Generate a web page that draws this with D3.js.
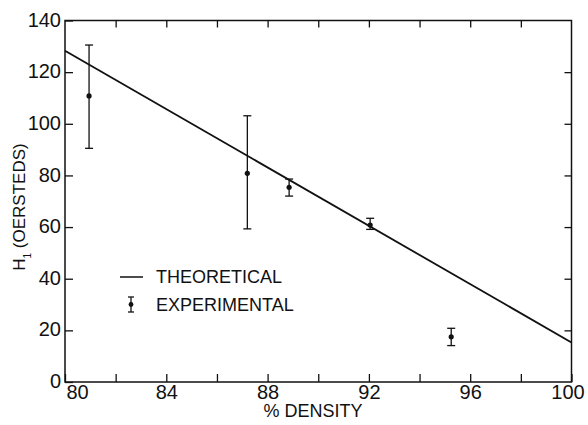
<!DOCTYPE html>
<html>
<head>
<meta charset="utf-8">
<script src="https://cdn.jsdelivr.net/npm/d3@7"></script>
<style>
  body { margin: 0; background: #fff; }
  text { font-family: "Liberation Sans", Arial, sans-serif; fill: #111; }
  .axis path { display: none; }
  .axis line { stroke: #111; stroke-width: 1.3; }
</style>
</head>
<body>
<svg id="chart"></svg>
<script>
// % density of the samples and measured H1 with its error range
var density   = [80.95, 87.2, 88.85, 92.05, 95.25];
var hMeasured = [110.8, 80.8, 75.4, 60.8, 17.5];
var hLow      = [90.5, 59.3, 72.0, 59.1, 14.1];
var hHigh     = [130.5, 103.1, 78.6, 63.4, 20.8];

// theoretical line end points
var theoryX = [80, 100];
var theoryY = [128.3, 15.3];

var xTicks = [80, 82, 84, 86, 88, 90, 92, 94, 96, 98, 100];
var yTicks = [0, 20, 40, 60, 80, 100, 120, 140];

var width = 588, height = 425;
var margin = {top: 20.5, right: 16.5, bottom: 43, left: 65};
var w = width - margin.left - margin.right;
var h = height - margin.top - margin.bottom;

var svg = d3.select("#chart").attr("width", width).attr("height", height);
var g = svg.append("g").attr("transform", "translate(" + margin.left + "," + margin.top + ")");

var x = d3.scaleLinear().domain([80, 100]).range([0, w]);
var y = d3.scaleLinear().domain([0, 140]).range([h, 0]);

// frame
g.append("rect")
  .attr("width", w).attr("height", h)
  .attr("fill", "none").attr("stroke", "#111").attr("stroke-width", 1.5);

// bottom axis, labels every 4, ticks every 2
var xAxis = g.append("g")
  .attr("class", "axis")
  .attr("transform", "translate(0," + h + ")")
  .call(d3.axisBottom(x).tickValues(xTicks).tickSize(-8).tickPadding(3)
    .tickFormat(function(d) { return d % 4 == 0 ? d : ""; }));
xAxis.selectAll("text").style("font-size", "20px");
xAxis.selectAll(".tick").filter(function(d) { return d == 80; }).select("text").attr("dx", 12);
xAxis.selectAll(".tick").filter(function(d) { return d == 100; }).select("text").attr("dx", -4);

// top ticks
g.append("g")
  .attr("class", "axis")
  .call(d3.axisTop(x).tickValues(xTicks.slice(1, -1)).tickSize(-7).tickFormat(""));

// left axis
var yAxis = g.append("g")
  .attr("class", "axis")
  .call(d3.axisLeft(y).tickValues(yTicks).tickSize(-8).tickPadding(4));
yAxis.selectAll("text").style("font-size", "20px").attr("dy", "0.28em");

// right ticks
g.append("g")
  .attr("class", "axis")
  .attr("transform", "translate(" + w + ",0)")
  .call(d3.axisRight(y).tickValues(yTicks.slice(1, -1)).tickSize(-7).tickFormat(""));

// theoretical line
var line = d3.line()
  .x(function(d) { return x(d[0]); })
  .y(function(d) { return y(d[1]); });

g.append("path")
  .datum(d3.zip(theoryX, theoryY))
  .attr("fill", "none")
  .attr("stroke", "#111")
  .attr("stroke-width", 1.8)
  .attr("d", line);

// experimental points with error bars
var pts = d3.range(density.length).map(function(i) {
  return {x: density[i], v: hMeasured[i], lo: hLow[i], hi: hHigh[i]};
});
var cap = 4;

var eb = g.selectAll(".err").data(pts).enter().append("g").attr("class", "err");
eb.append("line")
  .attr("x1", function(d) { return x(d.x); })
  .attr("x2", function(d) { return x(d.x); })
  .attr("y1", function(d) { return y(d.lo); })
  .attr("y2", function(d) { return y(d.hi); })
  .attr("stroke", "#111").attr("stroke-width", 1.3);
eb.append("line")
  .attr("x1", function(d) { return x(d.x) - cap; })
  .attr("x2", function(d) { return x(d.x) + cap; })
  .attr("y1", function(d) { return y(d.hi); })
  .attr("y2", function(d) { return y(d.hi); })
  .attr("stroke", "#111").attr("stroke-width", 1.3);
eb.append("line")
  .attr("x1", function(d) { return x(d.x) - cap; })
  .attr("x2", function(d) { return x(d.x) + cap; })
  .attr("y1", function(d) { return y(d.lo); })
  .attr("y2", function(d) { return y(d.lo); })
  .attr("stroke", "#111").attr("stroke-width", 1.3);
eb.append("circle")
  .attr("cx", function(d) { return x(d.x); })
  .attr("cy", function(d) { return y(d.v); })
  .attr("r", 2.6)
  .attr("fill", "#111");

// legend
var leg = svg.append("g").attr("transform", "translate(120,277)");
leg.append("line").attr("x1", 0).attr("x2", 23).attr("y1", 0).attr("y2", 0)
  .attr("stroke", "#111").attr("stroke-width", 1.5);
leg.append("text").attr("x", 36).attr("y", 0).attr("dy", "0.36em")
  .style("font-size", "18px").text("THEORETICAL");
leg.append("line").attr("x1", 11).attr("x2", 11).attr("y1", 20).attr("y2", 35)
  .attr("stroke", "#111").attr("stroke-width", 1.3);
leg.append("line").attr("x1", 8).attr("x2", 14).attr("y1", 20).attr("y2", 20)
  .attr("stroke", "#111").attr("stroke-width", 1.3);
leg.append("line").attr("x1", 8).attr("x2", 14).attr("y1", 35).attr("y2", 35)
  .attr("stroke", "#111").attr("stroke-width", 1.3);
leg.append("circle").attr("cx", 11).attr("cy", 27.5).attr("r", 2.4).attr("fill", "#111");
leg.append("text").attr("x", 36).attr("y", 27.5).attr("dy", "0.36em")
  .style("font-size", "18px").text("EXPERIMENTAL");

// axis titles
svg.append("text")
  .attr("x", 313).attr("y", 417)
  .attr("text-anchor", "middle")
  .style("font-size", "18px")
  .text("% DENSITY");

var yl = svg.append("text")
  .attr("transform", "translate(25,207) rotate(-90)")
  .attr("text-anchor", "middle")
  .style("font-size", "17px");
yl.append("tspan").text("H");
yl.append("tspan").attr("baseline-shift", "sub").style("font-size", "10px").text("1");
yl.append("tspan").text(" (OERSTEDS)");
</script>
</body>
</html>
